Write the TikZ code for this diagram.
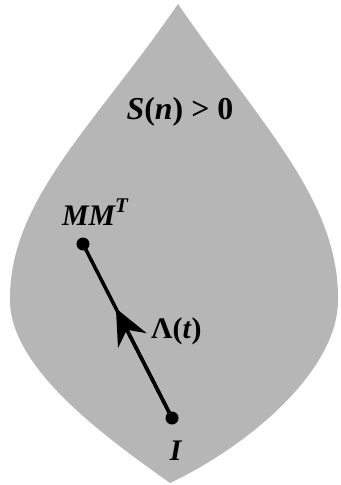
\documentclass[tikz,border=0pt]{standalone}
\usepackage{fontspec}
\setmainfont{Liberation Serif}
\usetikzlibrary{arrows.meta,calc}
\definecolor{leafgray}{RGB}{182,182,182}
\tikzset{
  lbl/.style={font=\fontsize{30}{32}\selectfont\bfseries, inner sep=0pt},
  dotmark/.style={circle, fill=black, minimum size=13bp, inner sep=0pt},
  pathline/.style={line width=3.5bp},
}
\begin{document}
\begin{tikzpicture}[x=1bp,y=-1bp]
\useasboundingbox (0,0) rectangle (340,485);
\fill[leafgray] (178,4) .. controls (95,125) and (9,200) .. (10,300)
  .. controls (10,370) and (110,440) .. (170,483)
  .. controls (250,445) and (338,370) .. (338,300)
  .. controls (339,200) and (261,125) .. (178,4) -- cycle;
\node[lbl, anchor=base, font=\fontsize{32}{34}\selectfont\bfseries] (cond) at (180,120) {\textit{S}(\textit{n}) > 0};
\node[dotmark] (mmt) at (83,244) {};
\node[dotmark] (id) at (172,418) {};
\node[lbl, anchor=base] (mmtl) at (95,225) {\textit{MM\raisebox{0.42em}{\fontsize{21}{22}\selectfont T}}};
\node[lbl, anchor=base west] (lam) at (151,338) {Λ(\textit{t})};
\node[lbl, anchor=base] (idl) at (176,460) {\textit{I}};
\coordinate (tip) at ($(id.center)!0.63!(mmt.center)$);
\draw[pathline] (id.center) -- (mmt.center);
\draw[pathline, -{Stealth[length=36bp,width=32bp,inset=12bp]}] (id.center) -- (tip);
\end{tikzpicture}
\end{document}
